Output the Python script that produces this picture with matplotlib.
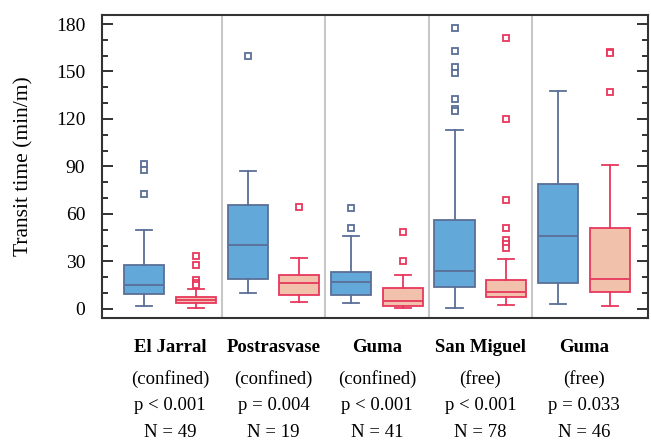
import matplotlib
matplotlib.use("Agg")
import matplotlib.pyplot as plt
from matplotlib.ticker import MultipleLocator

plt.rcParams['font.family'] = ['Liberation Serif', 'DejaVu Serif']

sites = ["El Jarral", "Postrasvase", "Guma", "San Miguel", "Guma"]
kinds = ["(confined)", "(confined)", "(confined)", "(free)", "(free)"]
pvals = ["p < 0.001", "p = 0.004", "p < 0.001", "p < 0.001", "p = 0.033"]
ns = ["N = 49", "N = 19", "N = 41", "N = 78", "N = 46"]

# (whislo, q1, med, q3, whishi) per site
blue_stats = [
    (2.0, 9.5, 14.9, 27.5, 50.0),
    (10.3, 18.9, 40.4, 65.4, 87.0),
    (3.8, 8.8, 17.2, 23.5, 46.2),
    (0.6, 13.6, 24.0, 55.9, 113.0),
    (2.9, 16.2, 46.2, 79.0, 137.9),
]
blue_fliers = [
    [91.5, 87.5, 72.7],
    [160.0],
    [63.5, 50.9],
    [177.7, 162.8, 152.7, 149.3, 132.7, 126.4, 125.1],
    [],
]
red_stats = [
    (0.6, 3.5, 5.4, 7.3, 12.8),
    (4.4, 9.0, 16.4, 21.5, 32.2),
    (0.6, 2.1, 5.2, 13.2, 21.5),
    (2.3, 7.3, 10.5, 18.3, 31.3),
    (1.6, 10.5, 18.7, 51.3, 90.8),
]
red_fliers = [
    [33.2, 27.5, 18.3, 16.6, 15.1],
    [64.5],
    [48.8, 30.3],
    [171.2, 120.0, 69.0, 50.9, 43.3, 41.0, 38.5],
    [162.5, 161.5, 137.3],
]

BLUE_FACE = "#62a8d8"
BLUE_EDGE = "#5b6f97"
RED_FACE = "#f2c1ab"
RED_EDGE = "#e8375c"

fig = plt.figure(figsize=(6.51, 4.41), dpi=100)
ax = fig.add_axes([102/651, 1-318/441, (648-102)/651, (318-15)/441])

def make(stats, fliers):
    out = []
    for (lo, q1, med, q3, hi), fl in zip(stats, fliers):
        out.append(dict(whislo=lo, q1=q1, med=med, q3=q3, whishi=hi, fliers=fl))
    return out

off = 0.25
w = 0.387
pos = list(range(len(sites)))
for stats, fl, face, edge, d in [(blue_stats, blue_fliers, BLUE_FACE, BLUE_EDGE, -off),
                                 (red_stats, red_fliers, RED_FACE, RED_EDGE, off)]:
    ax.bxp(make(stats, fl), positions=[p + d for p in pos], widths=w,
           capwidths=0.155, patch_artist=True, manage_ticks=False,
           boxprops=dict(facecolor=face, edgecolor=edge, linewidth=1.3),
           medianprops=dict(color=edge, linewidth=1.3),
           whiskerprops=dict(color=edge, linewidth=1.3),
           capprops=dict(color=edge, linewidth=1.3),
           flierprops=dict(marker='s', markersize=5, markerfacecolor='white',
                           markeredgecolor=edge, markeredgewidth=1.3, linestyle='none'))

for s in [0.5, 1.5, 2.5, 3.5]:
    ax.axvline(s, color="#c8c8c8", linewidth=1.5, zorder=0)

ax.set_xlim(-0.657, 4.62)
ax.set_ylim(-5.8, 185.7)
ax.yaxis.set_major_locator(MultipleLocator(30))
ax.yaxis.set_minor_locator(MultipleLocator(10))
ax.tick_params(axis='y', which='both', direction='in', left=True, right=True,
               labelsize=14, pad=12, width=1.4, color="#333333")
ax.tick_params(axis='y', which='major', length=8)
ax.tick_params(axis='y', which='minor', length=4.5)
ax.set_xticks([])
for sp in ax.spines.values():
    sp.set_linewidth(1.5)
    sp.set_color("#333333")

ax.set_ylabel("Transit time (min/m)", fontsize=15.5)
ax.yaxis.set_label_coords(-0.125, 0.5)

lines = [(sites, -20.9, 'bold'), (kinds, -44.0, 'normal'),
         (pvals, -63.0, 'normal'), (ns, -82.5, 'normal')]
for i in pos:
    for texts, dy, fw in lines:
        ax.annotate(texts[i], xy=(i, 0), xycoords=('data', 'axes fraction'),
                    xytext=(0, dy), textcoords='offset points', ha='center', va='center',
                    fontsize=13.5, fontweight=fw)

fig.savefig("out.png", dpi=100)
